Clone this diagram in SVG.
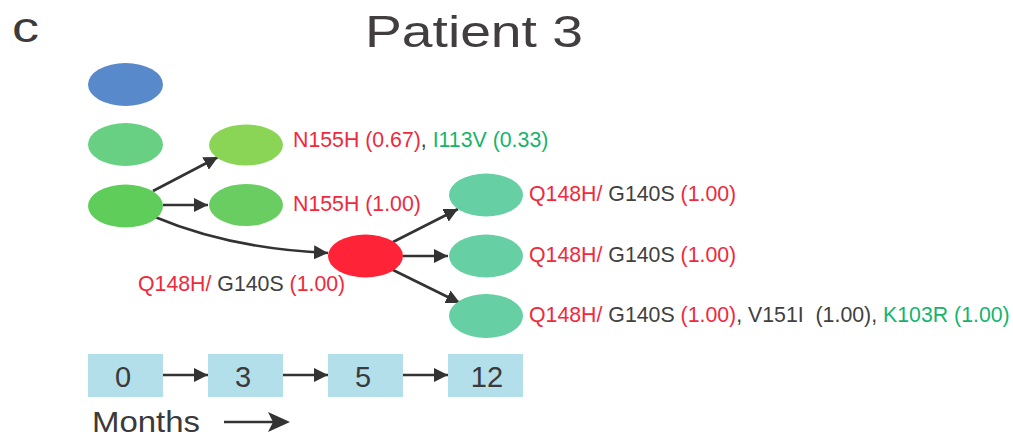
<svg xmlns="http://www.w3.org/2000/svg" width="1013" height="436" viewBox="0 0 1013 436">
<style>
text{font-family:"Liberation Sans",Arial,sans-serif}
.lbl{font-size:21.3px}
.r{fill:#f0293c}
.g{fill:#16b46b}
.k{fill:#404040}
.edge{stroke:#333;stroke-width:2.6;fill:none;marker-end:url(#ah)}
.box{fill:#b3dfeb}
.num{font-size:29px;fill:#3a3a3a;text-anchor:middle}
</style>
<defs>
<marker id="ah" viewBox="0 0 10 10" refX="10" refY="5" markerWidth="5.4" markerHeight="5.4" markerUnits="strokeWidth" orient="auto">
<path d="M0,0 L10,5 L0,10 z" fill="#333"/>
</marker>
</defs>
<rect width="1013" height="436" fill="#fff"/>
<text x="12" y="42" font-size="42" fill="#3d3a3b" textLength="27" lengthAdjust="spacingAndGlyphs">c</text>
<text x="365" y="47" font-size="45" fill="#423e3f" textLength="218" lengthAdjust="spacingAndGlyphs">Patient 3</text>

<g id="connectors">
<line class="edge" x1="153" y1="191" x2="218" y2="157"/>
<line class="edge" x1="163" y1="205" x2="208" y2="205"/>
<path class="edge" d="M155,217 C200,236 260,250 328,253"/>
<line class="edge" x1="393" y1="242" x2="458" y2="209"/>
<line class="edge" x1="403" y1="256" x2="448" y2="256"/>
<line class="edge" x1="393" y1="270" x2="460" y2="303"/>
<line class="edge" x1="163" y1="375" x2="208" y2="375"/>
<line class="edge" x1="283" y1="375" x2="328" y2="375"/>
<line class="edge" x1="403" y1="375" x2="448" y2="375"/>
<line x1="224" y1="422" x2="276" y2="422" stroke="#333" stroke-width="2.6"/>
<path d="M290,422 L268,412 L273,422 L268,432 z" fill="#333"/>
</g>

<g id="n_blue"><ellipse cx="125.5" cy="84.5" rx="37.5" ry="21.5" fill="#5889cb"/></g>
<g id="n_green2"><ellipse cx="125.5" cy="144.5" rx="37.5" ry="21.5" fill="#68d083"/></g>
<g id="n_src"><ellipse cx="125.5" cy="206" rx="37.5" ry="21.5" fill="#5fcd5a"/></g>
<g id="n_lg"><ellipse cx="246" cy="145" rx="37" ry="20.5" fill="#8ad556"/>
<text class="lbl" x="293" y="147"><tspan class="r">N155H (0.67)</tspan><tspan class="k">, </tspan><tspan class="g">I113V (0.33)</tspan></text></g>
<g id="n_n155"><ellipse cx="246" cy="205" rx="37" ry="21" fill="#69cd61"/>
<text class="lbl r" x="293" y="211">N155H (1.00)</text></g>
<g id="n_red"><ellipse cx="365.5" cy="256" rx="37.5" ry="21.5" fill="#ff2337"/>
<text class="lbl" x="138" y="291"><tspan class="r">Q148H/</tspan><tspan class="k"> G140S</tspan><tspan class="r"> (1.00)</tspan></text></g>
<g id="n_t1"><ellipse cx="486" cy="195" rx="37" ry="21.5" fill="#67cfa4"/>
<text class="lbl" x="529" y="201"><tspan class="r">Q148H/</tspan><tspan class="k"> G140S</tspan><tspan class="r"> (1.00)</tspan></text></g>
<g id="n_t2"><ellipse cx="486" cy="256" rx="37" ry="21.5" fill="#67cfa4"/>
<text class="lbl" x="529" y="262"><tspan class="r">Q148H/</tspan><tspan class="k"> G140S</tspan><tspan class="r"> (1.00)</tspan></text></g>
<g id="n_t3"><ellipse cx="486" cy="316" rx="37" ry="22" fill="#67cfa4"/>
<text class="lbl" x="529" y="322" style="white-space:pre"><tspan class="r">Q148H/</tspan><tspan class="k"> G140S</tspan><tspan class="r"> (1.00)</tspan><tspan class="k">, V151I  (1.00), </tspan><tspan class="g">K103R (1.00)</tspan></text></g>

<g id="t0"><rect class="box" x="88" y="354" width="75" height="43"/><text class="num" x="123" y="387">0</text></g>
<g id="t3"><rect class="box" x="208" y="354" width="75" height="43"/><text class="num" x="243" y="387">3</text></g>
<g id="t5"><rect class="box" x="328" y="354" width="75" height="43"/><text class="num" x="363" y="387">5</text></g>
<g id="t12"><rect class="box" x="448" y="354" width="75" height="43"/><text class="num" x="487" y="387">12</text></g>
<text x="92" y="432" font-size="29" fill="#3a3a3a" textLength="108" lengthAdjust="spacingAndGlyphs">Months</text>
</svg>
